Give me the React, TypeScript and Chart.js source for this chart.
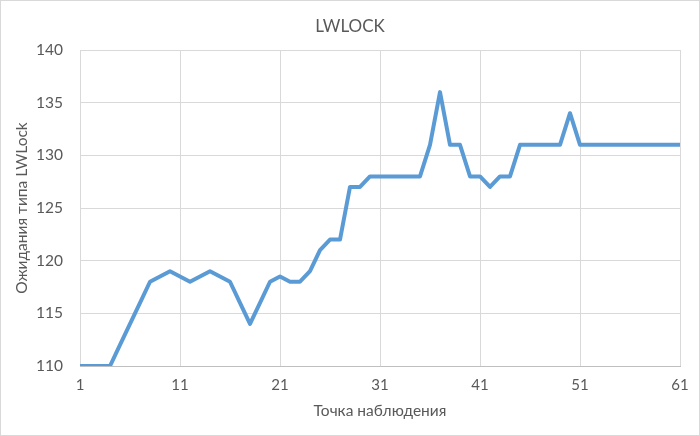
import React, { useEffect, useRef } from "react";
import { Chart, registerables } from "chart.js";

Chart.register(...registerables);

const chartTitle = "LWLOCK";
const xAxisTitle = "Точка наблюдения";
const yAxisTitle = "Ожидания типа LWLock";
const xTickValues = [1, 11, 21, 31, 41, 51, 61];
const observationPoints = Array.from({ length: 61 }, (_, i) => i + 1);
const lwlockWaits = [
  110, 110, 110, 110, 112, 114, 116, 118, 118.5, 119,
  118.5, 118, 118.5, 119, 118.5, 118, 116, 114, 116, 118,
  118.5, 118, 118, 119, 121, 122, 122, 127, 127, 128,
  128, 128, 128, 128, 128, 131, 136, 131, 131, 128,
  128, 127, 128, 128, 131, 131, 131, 131, 131, 134,
  131, 131, 131, 131, 131, 131, 131, 131, 131, 131, 131,
];

const FONT = "Lato, 'Open Sans', sans-serif";
const TEXT = "#595959";

export default function App() {
  const ref = useRef<HTMLCanvasElement | null>(null);

  useEffect(() => {
    document.body.style.margin = "0";
    const canvas = ref.current;
    if (!canvas) return;
    const decorPlugin = {
      id: "decor",
      beforeDraw(chart: any) {
        const ctx = chart.ctx;
        ctx.save();
        ctx.fillStyle = "#ffffff";
        ctx.fillRect(0, 0, chart.width, chart.height);
        ctx.restore();
      },
      afterDraw(chart: any) {
        const ctx = chart.ctx;
        ctx.save();
        ctx.strokeStyle = "#d9d9d9";
        ctx.lineWidth = 1;
        ctx.strokeRect(0.5, 0.5, chart.width - 1, chart.height - 1);
        ctx.fillStyle = TEXT;
        ctx.font = `17px ${FONT}`;
        ctx.textAlign = "center";
        ctx.textBaseline = "middle";
        ctx.fillText(chartTitle, chart.width / 2, 27);
        ctx.restore();
      },
    };
    const chart = new Chart(canvas, {
      type: "line",
      data: {
        datasets: [
          {
            label: yAxisTitle,
            data: observationPoints.map((x, i) => ({ x, y: lwlockWaits[i] })),
            borderColor: "#5B9BD5",
            backgroundColor: "#5B9BD5",
            borderWidth: 4,
            pointRadius: 0,
            tension: 0,
            borderJoinStyle: "round",
            borderCapStyle: "round",
          },
        ],
      },
      options: {
        animation: false,
        responsive: false,
        maintainAspectRatio: false,
        layout: { padding: { left: 0, right: 20, top: 50, bottom: 0 } },
        plugins: {
          legend: { display: false },
          tooltip: { enabled: false },
          title: { display: false },
        },
        scales: {
          x: {
            type: "linear",
            min: 1,
            max: 61,
            afterBuildTicks: (scale: any) => {
              scale.ticks = xTickValues.map((v) => ({ value: v }));
            },
            afterFit: (scale: any) => {
              scale.height = 70;
            },
            ticks: {
              color: TEXT,
              font: { family: FONT, size: 15 },
              padding: 10,
              maxRotation: 0,
              autoSkip: false,
            },
            grid: { color: "#d9d9d9", drawTicks: false, lineWidth: 1 },
            border: { display: true, color: "#bfbfbf", width: 1 },
            title: {
              display: true,
              text: xAxisTitle,
              color: TEXT,
              font: { family: FONT, size: 15.5 },
              padding: { top: 0, bottom: 16 },
            },
          },
          y: {
            min: 110,
            max: 140,
            afterFit: (scale: any) => {
              scale.width = 80;
            },
            ticks: {
              stepSize: 5,
              color: TEXT,
              font: { family: FONT, size: 15.5 },
              padding: 17,
            },
            grid: { color: "#d9d9d9", drawTicks: false, lineWidth: 1 },
            border: { display: false },
            title: {
              display: true,
              text: yAxisTitle,
              color: TEXT,
              font: { family: FONT, size: 15.5 },
              padding: { top: 13, bottom: 0 },
            },
          },
        },
      },
      plugins: [decorPlugin],
    });
    return () => chart.destroy();
  }, []);

  return (
    <div style={{ width: 700, height: 436 }}>
      <canvas ref={ref} width={700} height={436} style={{ display: "block" }} />
    </div>
  );
}
